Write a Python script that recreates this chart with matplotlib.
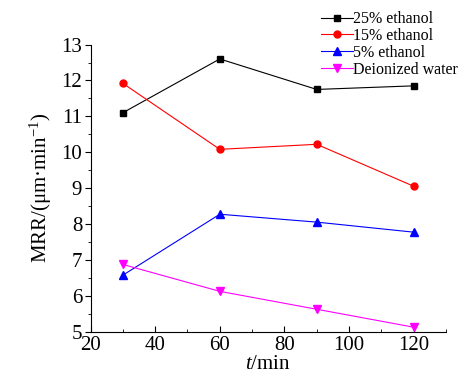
import matplotlib.pyplot as plt
from matplotlib.ticker import MultipleLocator

plt.rcParams['font.family'] = ['Liberation Serif', 'DejaVu Serif']
plt.rcParams['mathtext.fontset'] = 'custom'
plt.rcParams['mathtext.rm'] = 'Liberation Serif'
plt.rcParams['mathtext.it'] = 'Liberation Serif:italic'

t = [30, 60, 90, 120]
eth25 = [11.1, 12.6, 11.75, 11.85]
eth15 = [11.92, 10.08, 10.22, 9.05]
eth5 = [6.57, 8.27, 8.05, 7.77]
water = [6.87, 6.12, 5.62, 5.12]

fig = plt.figure(figsize=(4.69, 3.78), dpi=100)
ax = fig.add_axes([0.193, 0.123, 0.758, 0.759])

ax.plot(t, eth25, color='black', marker='s', ms=5, lw=0.8, label='25% ethanol')
ax.plot(t, eth15, color='red', marker='o', ms=5, lw=0.8, label='15% ethanol')
ax.plot(t, eth5, color='blue', marker='^', ms=5.5, lw=0.8, label='5% ethanol')
ax.plot(t, water, color='magenta', marker='v', ms=5.5, lw=0.8, label='Deionized water')

ax.set_xlim(20, 130)
ax.set_ylim(5, 13)
ax.set_xticks([20, 40, 60, 80, 100, 120])
ax.set_yticks(range(5, 14))
ax.xaxis.set_minor_locator(MultipleLocator(10))
ax.yaxis.set_minor_locator(MultipleLocator(0.5))
ax.spines['top'].set_visible(False)
ax.spines['right'].set_visible(False)
ax.tick_params(axis='x', which='both', direction='in', labelsize=15, pad=3)
ax.tick_params(axis='y', which='both', direction='out', labelsize=15, pad=2)
ax.tick_params(which='major', length=4)
ax.tick_params(which='minor', length=2)

ax.set_xlabel('$\\mathit{t}$/min', fontsize=15, labelpad=0)
ax.set_ylabel('MRR/(μm·min$^{-1}$)', fontsize=15, labelpad=5)

fig.legend(loc='upper right', bbox_to_anchor=(1.0, 1.0), frameon=False,
           fontsize=11.5, handlelength=2.0, handletextpad=0.0,
           labelspacing=0.05, borderaxespad=0.3)

fig.savefig('out.png', dpi=100)
